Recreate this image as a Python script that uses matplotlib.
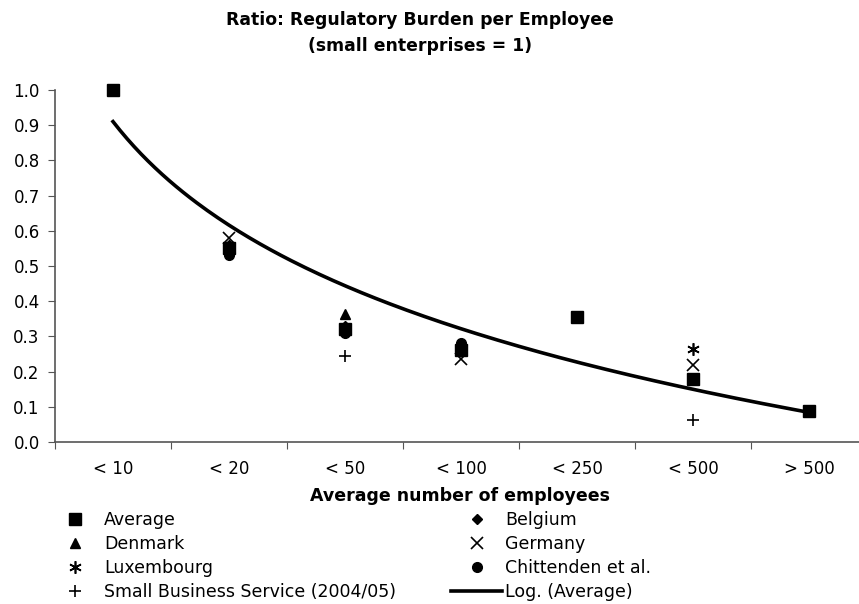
import numpy as np
import matplotlib
matplotlib.use("Agg")
import matplotlib.pyplot as plt

plt.rcParams['font.family'] = ['DejaVu Sans']

categories = ["< 10", "< 20", "< 50", "< 100", "< 250", "< 500", "> 500"]
nan = np.nan
average = [1.0, 0.55, 0.32, 0.26, 0.355, 0.18, 0.088]
belgium = [nan, 0.56, 0.33, 0.27, nan, nan, nan]
denmark = [nan, nan, 0.365, nan, nan, nan, nan]
germany = [nan, 0.58, nan, 0.235, nan, 0.22, nan]
luxembourg = [nan, nan, nan, nan, nan, 0.265, nan]
chittenden = [nan, 0.53, 0.31, 0.28, nan, nan, nan]
sbs = [nan, nan, 0.245, nan, nan, 0.062, nan]

x = np.arange(1, len(categories) + 1)

fig = plt.figure(figsize=(8.59, 6.04), dpi=100)
ax = fig.add_axes([55 / 859, 1 - 442 / 604, 812 / 859, 352 / 604])

series = [
    ("Average", average, dict(marker="s", ms=8.5)),
    ("Belgium", belgium, dict(marker="D", ms=5.5)),
    ("Denmark", denmark, dict(marker="^", ms=7)),
    ("Germany", germany, dict(marker="x", ms=8, mew=1.2)),
    ("Luxembourg", luxembourg, dict(marker=(6, 2, 0), ms=9, mew=1.2)),
    ("Chittenden et al.", chittenden, dict(marker="o", ms=7)),
    ("Small Business Service (2004/05)", sbs, dict(marker="+", ms=9, mew=1.2)),
]

handles = {}
for name, vals, style in series:
    h, = ax.plot(x, vals, ls="none", color="black", zorder=3, clip_on=False, **style)
    handles[name] = h

# logarithmic trend through the average values
coef = np.polyfit(np.log(x), average, 1)
xs = np.linspace(1, len(categories), 200)
trend, = ax.plot(xs, coef[0] * np.log(xs) + coef[1], color="black", lw=2.6, zorder=2)

ax.set_xlim(0.5, len(categories) + 0.5)
ax.set_ylim(0, 1.0)
ax.set_yticks(np.arange(0, 1.01, 0.1))
ax.set_yticklabels([f"{v:.1f}" for v in np.arange(0, 1.01, 0.1)])
ax.set_xticks(np.arange(0.5, len(categories) + 1, 1.0))
ax.set_xticklabels([])
ax.set_xticks(x, minor=True)
ax.set_xticklabels(categories, minor=True)
ax.tick_params(axis="x", which="minor", length=0, pad=13, labelsize=12)
ax.tick_params(axis="x", which="major", length=5, direction="out", color="#555555")
ax.tick_params(axis="y", length=5, direction="out", color="#555555", labelsize=12, pad=6)
for s in ["top", "right"]:
    ax.spines[s].set_visible(False)
for s in ["left", "bottom"]:
    ax.spines[s].set_color("#555555")
    ax.spines[s].set_linewidth(1.2)

fig.text(420 / 859, 1 - 20 / 604, "Ratio: Regulatory Burden per Employee",
         ha="center", va="center", fontsize=12.4, fontweight="bold")
fig.text(420 / 859, 1 - 46 / 604, "(small enterprises = 1)",
         ha="center", va="center", fontsize=12.4, fontweight="bold")
fig.text(460 / 859, 1 - 496 / 604, "Average number of employees",
         ha="center", va="center", fontsize=12.5, fontweight="bold")

order = ["Average", "Denmark", "Luxembourg", "Small Business Service (2004/05)",
         "Belgium", "Germany", "Chittenden et al."]
leg_handles = [handles[n] for n in order] + [trend]
leg_labels = order + ["Log. (Average)"]
fig.legend(leg_handles, leg_labels, loc="upper left",
           bbox_to_anchor=(50 / 859, 1 - 511 / 604), ncol=2, frameon=False,
           fontsize=12.5, handlelength=2.9, handletextpad=0.2,
           columnspacing=3.2, labelspacing=0.35, borderpad=0, borderaxespad=0)

fig.savefig("out.png", dpi=100)
